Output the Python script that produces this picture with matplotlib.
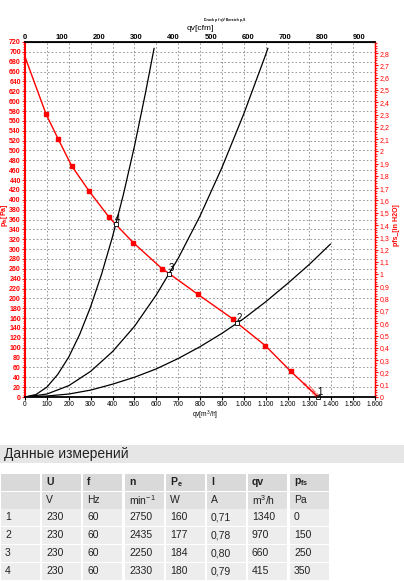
import matplotlib.pyplot as plt
from matplotlib.ticker import MultipleLocator, FuncFormatter

# Kennlinie (rot), qv in m3/h, pfs in Pa
fan_q = [0, 96, 152, 213, 294, 382, 415, 495, 627, 660, 791, 951, 970, 1099, 1215, 1340]
fan_p = [690, 574, 523, 469, 417, 366, 350, 313, 260, 250, 208, 158, 150, 104, 52, 0]
fan_marker_idx = [1, 2, 3, 4, 5, 7, 8, 10, 11, 13, 14]

# Anlagenkennlinien (schwarz)
sys4_q = [0, 50, 100, 150, 200, 250, 300, 350, 400, 450, 500, 550, 590]
sys4_p = [0, 5, 20, 46, 81, 127, 183, 249, 325, 411, 508, 615, 707]
sys3_q = [0, 100, 200, 300, 400, 500, 600, 700, 800, 900, 1000, 1100, 1110]
sys3_p = [0, 6, 23, 52, 92, 143, 207, 281, 367, 465, 574, 694, 707]
sys2_q = [0, 100, 200, 300, 400, 500, 600, 700, 800, 900, 1000, 1100, 1200, 1300, 1396]
sys2_p = [0, 2, 6, 14, 26, 40, 57, 78, 102, 129, 159, 193, 230, 269, 310]

# Messpunkte
op_labels = ['1', '2', '3', '4']
op_q = [1340, 970, 660, 415]
op_p = [0, 150, 250, 350]

# Tabelle
table_head = ['', 'U', 'f', 'n', 'P$_\\mathregular{e}$', 'I', 'qv', 'p$_\\mathregular{fs}$']
table_units = ['', 'V', 'Hz', 'min$^\\mathregular{-1}$', 'W', 'A', 'm$^\\mathregular{3}$/h', 'Pa']
table_rows = [
    ['1', '230', '60', '2750', '160', '0,71', '1340', '0'],
    ['2', '230', '60', '2435', '177', '0,78', '970', '150'],
    ['3', '230', '60', '2250', '184', '0,80', '660', '250'],
    ['4', '230', '60', '2330', '180', '0,79', '415', '350'],
]

W, H = 404, 581
fig = plt.figure(figsize=(W / 100, H / 100), dpi=100)
plt.rcParams['font.family'] = ['Liberation Sans', 'DejaVu Sans']

ax = fig.add_axes([25 / W, 1 - 397 / H, 350 / W, 355 / H])
ax.set_xlim(0, 1600)
ax.set_ylim(0, 720)

ax.xaxis.set_major_locator(MultipleLocator(100))
ax.yaxis.set_major_locator(MultipleLocator(20))
ax.yaxis.set_minor_locator(MultipleLocator(5))
ax.grid(True, color='#888888', lw=0.6, ls=(0, (2, 2.5)))

ax.plot(sys4_q, sys4_p, color='black', lw=0.9)
ax.plot(sys3_q, sys3_p, color='black', lw=0.9)
ax.plot(sys2_q, sys2_p, color='black', lw=0.9)

ax.plot(fan_q, fan_p, color='red', lw=1.0)
ax.plot([fan_q[i] for i in fan_marker_idx], [fan_p[i] for i in fan_marker_idx],
        ls='', marker='s', ms=2.5, color='red')

ax.plot(op_q, op_p, ls='', marker='s', ms=3, mfc='white', mec='black', mew=0.6, clip_on=False)
for lab, q, p in zip(op_labels, op_q, op_p):
    ax.text(q - 5, p + 5, lab, fontsize=7, color='black')

ax.text(1300, 14, 'n 2750', fontsize=4.5, color='red', rotation=-45,
        ha='center', va='center')

# Achsen
for side in ['top', 'bottom']:
    ax.spines[side].set_linewidth(1.3)
ax.spines['left'].set_color('red')
ax.spines['left'].set_linewidth(1.5)
ax.spines['right'].set_color('red')
ax.spines['right'].set_linewidth(1.0)

ax.tick_params(axis='x', labelsize=4.8, length=2, pad=1)
ax.tick_params(axis='y', which='major', labelsize=5, colors='red', length=2.5, pad=0.5)
ax.tick_params(axis='y', which='minor', colors='red', length=1.5)
ax.xaxis.set_major_formatter(FuncFormatter(lambda v, p: f'{int(v):,}'.replace(',', '.')))
for t in ax.get_yticklabels():
    t.set_fontweight('bold')

top = ax.secondary_xaxis('top', functions=(lambda x: x / 1.699, lambda x: x * 1.699))
top.xaxis.set_major_locator(MultipleLocator(100))
top.tick_params(labelsize=5.5, length=0, pad=1)
for t in top.get_xticklabels():
    t.set_fontweight('bold')

right = ax.secondary_yaxis('right', functions=(lambda y: y / 249.09, lambda y: y * 249.09))
right.yaxis.set_major_locator(MultipleLocator(0.1))
right.yaxis.set_minor_locator(MultipleLocator(0.02))
right.yaxis.set_major_formatter(FuncFormatter(lambda v, p: f'{v:.1f}'.rstrip('0').rstrip('.').replace('.', ',')))
right.tick_params(which='major', labelsize=5, colors='red', length=2.5, pad=1)
right.tick_params(which='minor', colors='red', length=1.5)
right.spines['right'].set_color('red')

fig.text(225 / W, 1 - 20 / H, 'Druck p f qV Bereich p,S', fontsize=2.5, ha='center', va='center',
         fontweight='bold')
fig.text(200 / W, 1 - 29 / H, 'qv[cfm]', fontsize=6, ha='center', va='center')
fig.text(205 / W, 1 - 415 / H, 'qv[m$^\\mathregular{3}$/h]', fontsize=4.8, ha='center', va='center')
fig.text(4 / W, 1 - 215 / H, 'p$_\\mathregular{fs}$[Pa]', fontsize=5, color='red', rotation=90,
         ha='center', va='center', fontweight='bold')
fig.text(396 / W, 1 - 225 / H, 'pfs_[in H2O]', fontsize=5, color='red', rotation=90,
         ha='center', va='center', fontweight='bold')

# Tabelle unten
tab = fig.add_axes([0, 0, 1, 1])
tab.set_xlim(0, W)
tab.set_ylim(H, 0)
tab.axis('off')

tab.add_patch(plt.Rectangle((0, 445), W, 18, color='#e6e6e6', lw=0))
tab.text(4, 454, 'Данные измерений', fontsize=10, va='center', ha='left', color='#222222')

col_x = [1, 42, 83, 125, 166, 207, 248, 290]
col_w = 39
row_y = [474, 492, 509, 527, 545, 563]
row_h = 16.5
row_colors = ['#d9d9d9', '#e0e0e0', '#ededed', '#ededed', '#ededed', '#ededed']
all_rows = [table_head, table_units] + table_rows
for r, (cells, y0) in enumerate(zip(all_rows, row_y)):
    for c, (txt, x0) in enumerate(zip(cells, col_x)):
        tab.add_patch(plt.Rectangle((x0, y0), col_w, row_h, color=row_colors[r], lw=0))
        tab.text(x0 + 4, y0 + row_h / 2, txt, fontsize=7.5, va='center', ha='left',
                 color='#222222', fontweight='bold' if r == 0 else 'normal')

fig.savefig('out.png', dpi=100)
